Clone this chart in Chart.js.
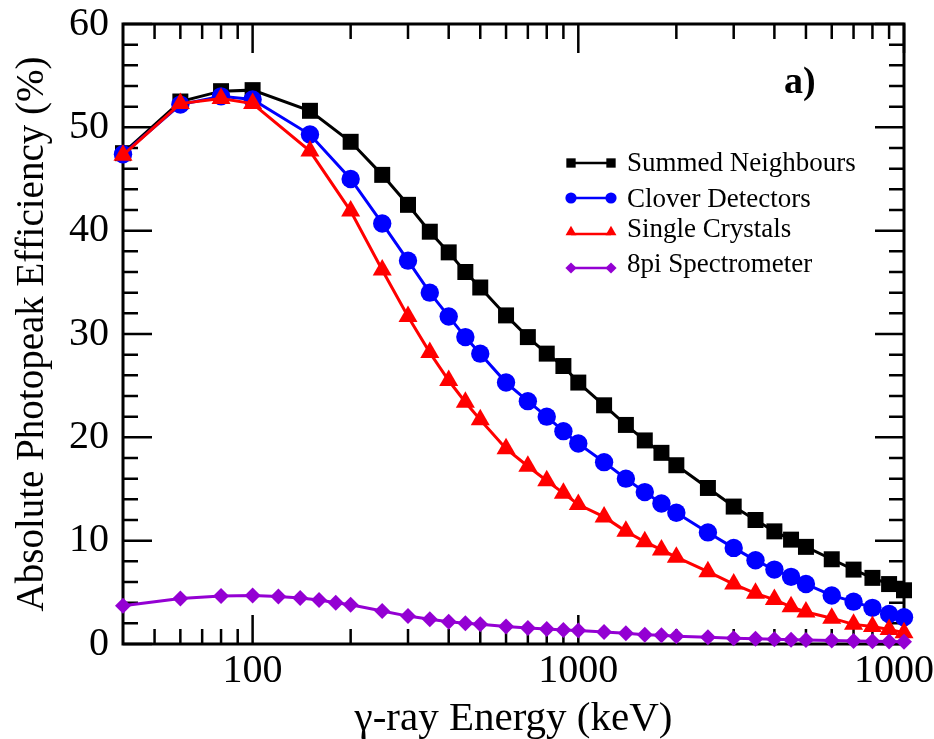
<!DOCTYPE html>
<html>
<head>
<meta charset="utf-8">
<title>Absolute photopeak efficiency</title>
<script src="https://cdn.jsdelivr.net/npm/chart.js@4.4.1/dist/chart.umd.min.js"></script>
<style>
  html, body { margin: 0; padding: 0; background: #fff; overflow: hidden; }
  #wrap { width: 934px; height: 739px; position: relative; }
</style>
</head>
<body>
<div id="wrap"><canvas id="eff"></canvas></div>
<script>
// gamma-ray energies (keV)
const energies = [40, 60, 80, 100, 150, 200, 250, 300, 350, 400, 450, 500,
  600, 700, 800, 900, 1000, 1200, 1400, 1600, 1800, 2000, 2500, 3000, 3500,
  4000, 4500, 5000, 6000, 7000, 8000, 9000, 10000];
const energies8pi = [40, 60, 80, 100, 120, 140, 160, 180, 200, 250, 300, 350,
  400, 450, 500, 600, 700, 800, 900, 1000, 1200, 1400, 1600, 1800, 2000, 2500,
  3000, 3500, 4000, 4500, 5000, 6000, 7000, 8000, 9000, 10000];

// efficiencies (%)
const summedNeighbours = [47.5, 52.5, 53.5, 53.6, 51.6, 48.6, 45.4, 42.5, 39.9,
  37.9, 36.0, 34.5, 31.8, 29.7, 28.1, 26.9, 25.3, 23.1, 21.2, 19.7, 18.5, 17.3,
  15.1, 13.3, 12.0, 10.9, 10.1, 9.4, 8.2, 7.2, 6.4, 5.8, 5.2];
const cloverDetectors = [47.4, 52.2, 53.0, 52.7, 49.3, 45.0, 40.7, 37.1, 34.0,
  31.7, 29.7, 28.1, 25.3, 23.5, 22.0, 20.6, 19.4, 17.6, 16.0, 14.7, 13.6, 12.7,
  10.8, 9.3, 8.1, 7.2, 6.5, 5.8, 4.7, 4.1, 3.5, 2.9, 2.6];
const singleCrystals = [47.3, 52.3, 52.8, 52.3, 47.7, 41.9, 36.2, 31.7, 28.2,
  25.5, 23.4, 21.7, 18.9, 17.2, 15.8, 14.6, 13.5, 12.3, 10.9, 9.9, 9.1, 8.4,
  7.0, 5.8, 4.9, 4.3, 3.6, 3.1, 2.5, 1.9, 1.7, 1.4, 1.1];
const spectrometer8pi = [3.7, 4.4, 4.65, 4.7, 4.6, 4.45, 4.25, 4.0, 3.8, 3.2,
  2.7, 2.4, 2.15, 2.0, 1.9, 1.7, 1.55, 1.45, 1.35, 1.3, 1.15, 1.05, 0.9, 0.85,
  0.75, 0.65, 0.55, 0.5, 0.45, 0.4, 0.38, 0.33, 0.3, 0.27, 0.25, 0.22];

const xTicks = [100, 1000, 10000];
const yTicks = [0, 10, 20, 30, 40, 50, 60];

const SERIF = '"Liberation Serif", "DejaVu Serif", serif';

const pts = (xs, ys) => xs.map((e, i) => ({ x: e, y: ys[i] }));

function series(label, xs, ys, color, style, radius, order) {
  return {
    label: label,
    data: pts(xs, ys),
    borderColor: color,
    backgroundColor: color,
    borderWidth: 3,
    pointStyle: style,
    pointRadius: radius,
    pointBackgroundColor: color,
    pointBorderWidth: 0,
    pointHoverRadius: radius,
    tension: 0,
    clip: false,
    order: order,
  };
}

// inward ticks on all four sides plus the box around the plot
const frameTicks = {
  id: 'frameTicks',
  beforeDatasetsDraw(chart) {
    const { ctx, chartArea: a, scales: { x, y } } = chart;
    ctx.save();
    ctx.strokeStyle = '#000';
    ctx.lineWidth = 2.5;
    ctx.beginPath();
    for (let d = 10; d <= 10000; d *= 10) {
      for (let k = 1; k <= 9; k++) {
        const v = d * k;
        if (v <= x.min || v > x.max) continue;
        const len = k === 1 ? 29 : 15;
        const px = x.getPixelForValue(v);
        ctx.moveTo(px, a.bottom); ctx.lineTo(px, a.bottom - len);
        ctx.moveTo(px, a.top); ctx.lineTo(px, a.top + len);
      }
    }
    for (let v = 0; v <= 60; v += 2) {
      const len = v % 10 === 0 ? 29 : 15;
      const py = y.getPixelForValue(v);
      ctx.moveTo(a.left, py); ctx.lineTo(a.left + len, py);
      ctx.moveTo(a.right, py); ctx.lineTo(a.right - len, py);
    }
    ctx.stroke();
    ctx.lineWidth = 3;
    ctx.strokeRect(a.left, a.top, a.right - a.left, a.bottom - a.top);
    ctx.restore();
  }
};

// axis titles, panel tag and the legend box
const annotations = {
  id: 'annotations',
  afterDraw(chart) {
    const { ctx, chartArea: a } = chart;
    ctx.save();
    ctx.fillStyle = '#000';
    ctx.textBaseline = 'alphabetic';

    ctx.font = '41px ' + SERIF;
    ctx.textAlign = 'center';
    ctx.fillText('\u03b3-ray Energy (keV)', (a.left + a.right) / 2, 730);

    ctx.font = '39px ' + SERIF;
    ctx.save();
    ctx.translate(43, (a.top + a.bottom) / 2);
    ctx.rotate(-Math.PI / 2);
    ctx.fillText('Absolute Photopeak Efficiency (%)', 0, 0);
    ctx.restore();

    ctx.font = 'bold 38px ' + SERIF;
    ctx.textAlign = 'left';
    ctx.fillText('a)', 784, 93);

    // legend rows: marker centre y, text baseline y
    const rows = [
      { idx: 0, my: 163, ty: 171, r: 6.6 },
      { idx: 1, my: 198, ty: 207, r: 5.6 },
      { idx: 2, my: 232, ty: 237, r: 6.3 },
      { idx: 3, my: 268, ty: 272, r: 5.6 },
    ];
    const x0 = 571, x1 = 611;
    ctx.font = '27px ' + SERIF;
    rows.forEach(row => {
      const ds = chart.data.datasets[row.idx];
      ctx.strokeStyle = ds.borderColor;
      ctx.lineWidth = 2.5;
      const ly = row.idx === 2 ? row.my + 2 : row.my;
      ctx.beginPath();
      ctx.moveTo(x0, ly); ctx.lineTo(x1, ly);
      ctx.stroke();
      const opts = { pointStyle: ds.pointStyle, radius: row.r, rotation: 0, borderWidth: 0 };
      ctx.fillStyle = ds.borderColor;
      Chart.helpers.drawPoint(ctx, opts, x0, row.my);
      Chart.helpers.drawPoint(ctx, opts, x1, row.my);
      ctx.fillStyle = '#000';
      ctx.fillText(ds.label, 627, row.ty);
    });
    ctx.restore();
  }
};

new Chart(document.getElementById('eff'), {
  type: 'line',
  data: {
    datasets: [
      series('Summed Neighbours', energies, summedNeighbours, '#000000', 'rect', 11.3, 4),
      series('Clover Detectors', energies, cloverDetectors, '#0000ff', 'circle', 9.2, 3),
      series('Single Crystals', energies, singleCrystals, '#ff0000', 'triangle', 11, 2),
      series('8pi Spectrometer', energies8pi, spectrometer8pi, '#9400d3', 'rectRot', 8, 1),
    ]
  },
  options: {
    responsive: true,
    maintainAspectRatio: false,
    devicePixelRatio: 1,
    animation: false,
    events: [],
    layout: { padding: { top: 24, right: 30, left: 0, bottom: 0 } },
    plugins: {
      legend: { display: false },
      tooltip: { enabled: false },
    },
    scales: {
      x: {
        type: 'logarithmic',
        min: 40,
        max: 10000,
        grid: { display: false, drawTicks: false },
        border: { display: false },
        afterBuildTicks: s => { s.ticks = xTicks.map(v => ({ value: v, major: true })); },
        afterFit: s => { s.height = 95; s.paddingLeft = 0; s.paddingRight = 0; },
        ticks: {
          autoSkip: false,
          maxRotation: 0,
          padding: 3,
          color: '#000',
          font: { family: SERIF, size: 40 },
          callback: v => String(v),
        },
      },
      y: {
        min: 0,
        max: 60,
        grid: { display: false, drawTicks: false },
        border: { display: false },
        afterBuildTicks: s => { s.ticks = yTicks.map(v => ({ value: v })); },
        afterFit: s => { s.width = 123; s.paddingTop = 0; s.paddingBottom = 0; },
        ticks: {
          padding: 14,
          color: '#000',
          font: { family: SERIF, size: 40 },
          callback: v => String(v),
        },
      },
    },
  },
  plugins: [frameTicks, annotations],
});
</script>
</body>
</html>
